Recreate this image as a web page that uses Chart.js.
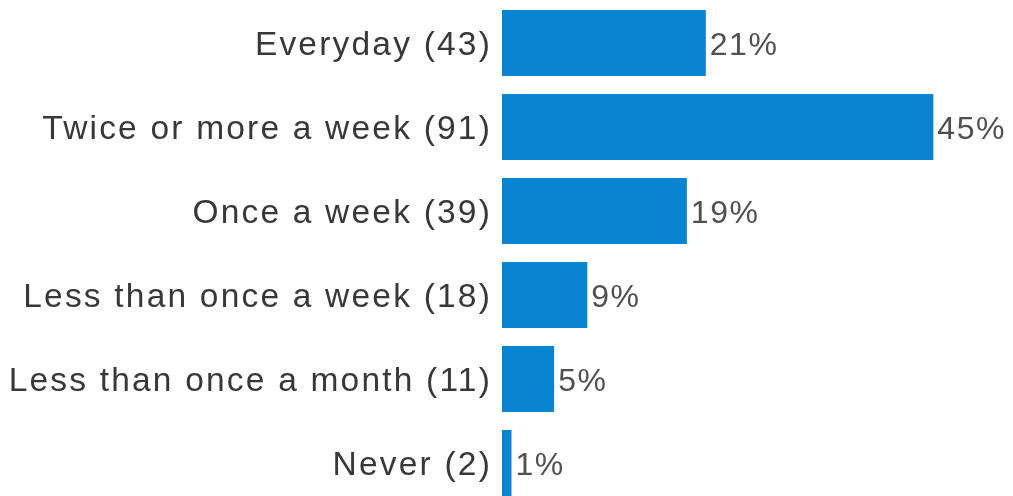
<!DOCTYPE html>
<html>
<head>
<meta charset="utf-8">
<script src="https://cdn.jsdelivr.net/npm/chart.js@4/dist/chart.umd.min.js"></script>
<style>
html,body{margin:0;padding:0;background:#fff;overflow:hidden;}
#wrap{width:1013px;height:506px;}
</style>
</head>
<body>
<div id="wrap"><canvas id="c" width="1013" height="506"></canvas></div>
<script>
const categories = ["Everyday (43)", "Twice or more a week (91)", "Once a week (39)", "Less than once a week (18)", "Less than once a month (11)", "Never (2)"];
const counts = [43, 91, 39, 18, 11, 2];
const percentLabels = ["21%", "45%", "19%", "9%", "5%", "1%"];

const FONT = "'Liberation Sans', Arial, sans-serif";
const LS = '2.2px';
const spacingPlugin = {
  id: 'spacing',
  beforeUpdate(c){ c.ctx.letterSpacing = LS; },
  beforeLayout(c){ c.ctx.letterSpacing = LS; },
  beforeDraw(c){ c.ctx.letterSpacing = LS; }
};
const valueLabels = {
  id: 'valueLabels',
  afterDatasetsDraw(c){
    const ctx = c.ctx;
    const meta = c.getDatasetMeta(0);
    ctx.save();
    ctx.letterSpacing = '1.5px';
    ctx.font = '32px ' + FONT;
    ctx.fillStyle = '#505050';
    ctx.textAlign = 'left';
    ctx.textBaseline = 'middle';
    meta.data.forEach((bar, i) => {
      ctx.fillText(percentLabels[i], bar.x + 4, bar.y + 3);
    });
    ctx.restore();
  }
};

new Chart(document.getElementById('c'), {
  type: 'bar',
  data: {
    labels: categories,
    datasets: [{
      data: counts,
      backgroundColor: '#0884d0',
      borderWidth: 0,
      barPercentage: 66/84,
      categoryPercentage: 1
    }]
  },
  options: {
    indexAxis: 'y',
    responsive: false,
    animation: false,
    layout: { padding: { top: 1, bottom: 1, left: 0, right: 37 } },
    plugins: { legend: { display: false }, tooltip: { enabled: false } },
    scales: {
      x: { display: false, min: 0, max: 100 },
      y: {
        grid: { display: false, drawTicks: false },
        border: { display: false },
        afterFit(s){ s.width = 502; s.paddingTop = 0; s.paddingBottom = 0; },
        ticks: {
          padding: 10,
          labelOffset: 3,
          color: '#383838',
          font: { family: FONT, size: 33.5 }
        }
      }
    }
  },
  plugins: [spacingPlugin, valueLabels]
});
</script>
</body>
</html>
